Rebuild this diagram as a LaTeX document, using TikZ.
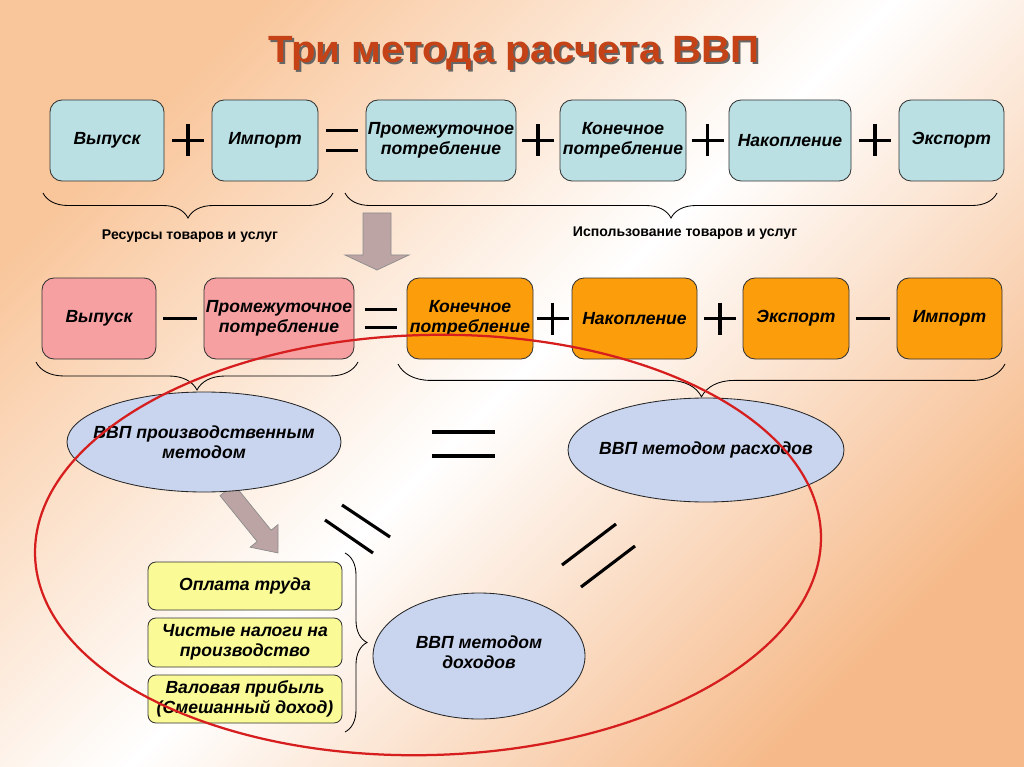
\documentclass[tikz,border=0pt]{standalone}
\usepackage{fontspec}
\setmainfont{Liberation Sans}
\usetikzlibrary{positioning,calc,shapes.geometric,decorations.pathreplacing}

\definecolor{bgpeach}{RGB}{249,198,155}
\definecolor{bgorange}{RGB}{246,186,138}
\definecolor{resblue}{RGB}{186,224,228}
\definecolor{prodpink}{RGB}{247,160,162}
\definecolor{useorange}{RGB}{252,157,12}
\definecolor{incyellow}{RGB}{250,250,150}
\definecolor{gdpblue}{RGB}{201,212,238}
\definecolor{arrowgray}{RGB}{189,164,164}
\definecolor{titlered}{RGB}{196,66,22}
\definecolor{ringred}{RGB}{214,30,30}

\newcommand\titlefont{\bfseries\fontsize{27}{32}\selectfont}
\newcommand\boxfont{\bfseries\itshape\fontsize{12.5}{14.5}\selectfont}
\newcommand\notefont{\bfseries\fontsize{10}{12}\selectfont}

\begin{document}
\begin{tikzpicture}[x=0.025cm,y=-0.025cm,
  sz/.style 2 args={minimum width=#1*0.025cm,minimum height=#2*0.025cm},
  box/.style={draw=black!80,line width=0.6pt,rounded corners=0.3cm,inner sep=0pt,align=center,font=\boxfont},
  resbox/.style={box,fill=resblue},
  prodbox/.style={box,fill=prodpink},
  usebox/.style={box,fill=useorange},
  incbox/.style={box,fill=incyellow,rounded corners=0.2cm},
  gdp/.style={ellipse,draw=black!85,line width=0.6pt,fill=gdpblue,inner sep=0pt},
  gdptext/.style={align=center,font=\boxfont},
  ubrace/.style={decorate,decoration={brace,mirror,amplitude=#1},line width=0.6pt},
  rbrace/.style={decorate,decoration={brace,amplitude=#1},line width=0.6pt},
  blockarrow/.style={fill=arrowgray,draw=black!45,line width=0.5pt},
  op/.style={line width=2.2pt},
  opthick/.style={line width=2.8pt},
  plussign/.pic={\draw[op] (-16,0) -- (16,0) (0,-16) -- (0,16);},
  minussign/.pic={\draw[opthick] (-17,0) -- (17,0);},
  eqsign/.pic={\draw[op] (-16,-10) -- (16,-10) (-16,10) -- (16,10);},
  eqthick/.pic={\draw[opthick] (-16,-9) -- (16,-9) (-16,9) -- (16,9);}
]
  % background
  \shade[top color=bgpeach,bottom color=bgorange,middle color=white,shading angle=45]
    (0,0) rectangle (1024,767);

  % title
  \node[font=\titlefont,text=black!60] (titleshadow) at (516,55) {\scalebox{1.06}[1]{Три метода расчета ВВП}};
  \node[font=\titlefont,text=titlered] (title) at (514,53) {\scalebox{1.06}[1]{Три метода расчета ВВП}};

  % resources and uses
  \node[resbox,sz={114}{81}] (r1out) at (107,140.5) {Выпуск};
  \node[resbox,sz={106}{81}] (r1imp) at (265,140.5) {Импорт};
  \node[resbox,sz={150}{81}] (r1int) at (441,140.5) {Промежуточное\\потребление};
  \node[resbox,sz={126}{81}] (r1fin) at (623,140.5) {Конечное\\потребление};
  \node[resbox,sz={122}{81}] (r1acc) at (790,140.5) {Накопление};
  \node[resbox,sz={105}{81}] (r1exp) at (951.5,140.5) {Экспорт};

  \path ($(r1out.east)!0.5!(r1imp.west)$) pic {plussign};
  \path ($(r1imp.east)!0.5!(r1int.west)$) pic {eqsign};
  \foreach \a/\b in {r1int/r1fin,r1fin/r1acc,r1acc/r1exp}
    \path ($(\a.east)!0.5!(\b.west)$) pic {plussign};

  \draw[ubrace=0.625cm] (43,193) -- (333,193);
  \draw[ubrace=0.625cm] (345,193) -- (997,193);
  \node[font=\notefont] (resnote) at (190,236) {Ресурсы товаров и услуг};
  \node[font=\notefont] (usenote) at (685,233) {Использование товаров и услуг};

  \draw[blockarrow,shift={(377,213)}]
    (-14,0) -- (14,0) -- (14,42) -- (32,42) -- (0,57) -- (-32,42) -- (-14,42) -- cycle;

  % GDP identity
  \node[prodbox,sz={114}{81}] (r2out) at (99,318.5) {Выпуск};
  \node[prodbox,sz={150}{81}] (r2int) at (279,318.5) {Промежуточное\\потребление};
  \node[usebox,sz={126}{81}] (r2fin) at (470,318.5) {Конечное\\потребление};
  \node[usebox,sz={125}{81}] (r2acc) at (634.5,318.5) {Накопление};
  \node[usebox,sz={106}{81}] (r2exp) at (796,318.5) {Экспорт};
  \node[usebox,sz={105}{81}] (r2imp) at (949.5,318.5) {Импорт};

  \path ($(r2out.east)!0.5!(r2int.west)$) pic {minussign};
  \path ($(r2int.east)!0.5!(r2fin.west)$) pic {eqthick};
  \path ($(r2fin.east)!0.5!(r2acc.west)$) pic {plussign};
  \path ($(r2acc.east)!0.5!(r2exp.west)$) pic {plussign};
  \path ($(r2exp.east)!0.5!(r2imp.west)$) pic {minussign};

  \draw[ubrace=0.7cm] (36,362) -- (358,362);
  \draw[ubrace=0.82cm] (398,364) -- (1005,364);

  % three methods
  \draw[blockarrow,shift={(227,490)},rotate=-51]
    (0,-9) -- (59,-9) -- (59,-18) -- (81,0) -- (59,18) -- (59,9) -- (0,9) -- cycle;

  \node[gdp,sz={274}{100},label={[gdptext]center:{ВВП производственным\\методом}}] (prod) at (204,442) {};
  \node[gdp,sz={276}{104},label={[gdptext]center:{ВВП методом расходов}}] (expn) at (706,450) {};
  \node[gdp,sz={212}{126},label={[gdptext,yshift=0.1cm]center:{ВВП методом\\доходов}}] (inc) at (479,656) {};

  \node[incbox,sz={194}{48}] (wage) at (245,586) {Оплата труда};
  \node[incbox,sz={194}{49}] (tax) at (245,642.5) {Чистые налоги на\\производство};
  \node[incbox,sz={194}{48}] (profit) at (245,699) {Валовая прибыль\\(Смешанный доход)};
  \draw[rbrace=0.55cm] (345,553) -- (345,732);

  \draw[op] (432,432) -- (495,432) (432,456) -- (495,456);
  \draw[op] (342,505) -- (390,537) (325,520) -- (373,553);
  \draw[op] (562,565) -- (616,524) (581,587) -- (635,546);

  % red ring
  \draw[ringred,line width=1.6pt,rotate around={1.5:(428,545)}]
    (428,545) ellipse [x radius=9.825cm,y radius=5.25cm];
\end{tikzpicture}
\end{document}
